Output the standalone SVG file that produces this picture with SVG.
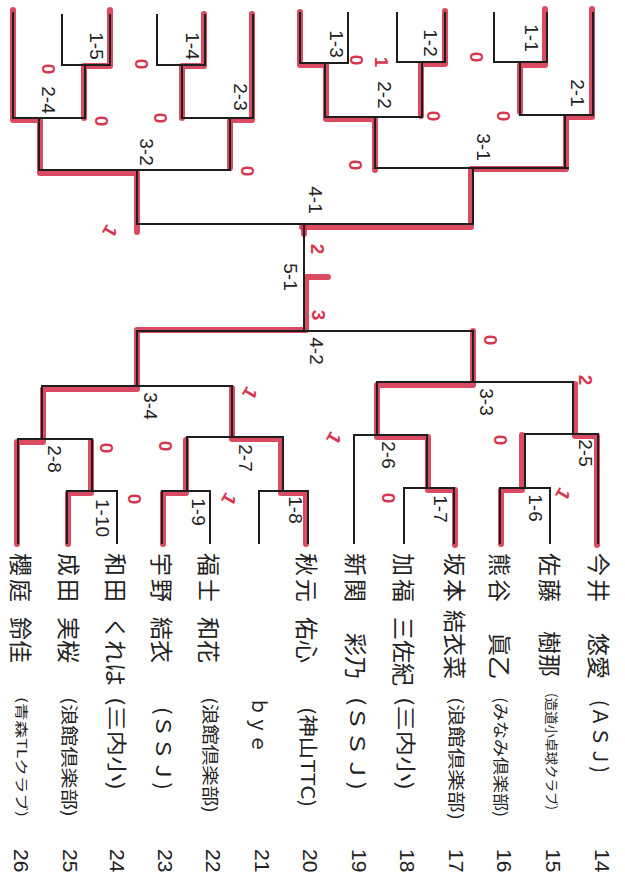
<svg xmlns="http://www.w3.org/2000/svg" width="625" height="874" viewBox="0 0 625 874">
<style>
.ln{fill:none;stroke:#1e1e1e;stroke-width:2;stroke-linecap:square;stroke-linejoin:miter}
.hl{fill:none;stroke:#d63650;stroke-width:6;stroke-linejoin:round;stroke-linecap:round;opacity:.9}
text{dominant-baseline:central}
.nm{font-family:"Noto Sans CJK JP","Liberation Sans",sans-serif;font-size:23px;fill:#222}
.sn{letter-spacing:3px}
.cl{font-family:"Noto Sans CJK JP","Liberation Sans",sans-serif;fill:#222}
.no{font-family:"Liberation Sans",sans-serif;font-size:21px;fill:#222}
.lb{font-family:"Liberation Sans",sans-serif;font-size:19px;fill:#222;text-anchor:middle}
.sc{font-family:"Liberation Sans",sans-serif;font-size:19px;font-weight:bold;fill:#d63650;text-anchor:middle}
</style>
<rect width="625" height="874" fill="#fff"/>

<g id="highlights">
<path class="hl" d="M13,10 V120 H40 V173 H137 V232"/>
<path class="hl" d="M110,10 V66 H84 V118"/>
<path class="hl" d="M204,14 V66 H182 V118"/>
<path class="hl" d="M252,14 V120 H230 V168"/>
<path class="hl" d="M300,12 V65 H326 V119 H375 V170"/>
<path class="hl" d="M445,11 V64 H421 V116"/>
<path class="hl" d="M545,9 V65 H520 V112"/>
<path class="hl" d="M592,9 V117 H566 V169 H471 V227 H302"/>
<path class="hl" d="M304,227 V234"/>
<path class="hl" d="M328,277 H306 V330 H137 V389 H43 V442 H17 V544"/>
<path class="hl" d="M68,544 V493 H91 V441"/>
<path class="hl" d="M306,544 V493 H281 V439 H232 V388"/>
<path class="hl" d="M163,544 V493 H186 V440"/>
<path class="hl" d="M455,545 V490 H428 V437 H377 V385 H473 V331"/>
<path class="hl" d="M597,545 V436 H575 V384"/>
<path class="hl" d="M501,544 V490 H522 V435"/>
</g>

<g id="connectors">
<path class="ln" d="M13,13 V118 H85"/>
<path class="ln" d="M62,15 V65 H110 V15"/>
<path class="ln" d="M85,65 V118"/>
<path class="ln" d="M39,118 V170"/>
<path class="ln" d="M157,15 V65 H205 V15"/>
<path class="ln" d="M182,65 V118 H253 V15"/>
<path class="ln" d="M230,118 V170"/>
<path class="ln" d="M39,170 H230"/>
<path class="ln" d="M137,170 V224"/>
<path class="ln" d="M300,13 V63 H348 V13"/>
<path class="ln" d="M325,63 V117"/>
<path class="ln" d="M397,13 V62 H445 V13"/>
<path class="ln" d="M422,62 V117"/>
<path class="ln" d="M325,117 H422"/>
<path class="ln" d="M375,117 V168"/>
<path class="ln" d="M494,13 V62 H547 V13"/>
<path class="ln" d="M520,62 V115 H593 V13"/>
<path class="ln" d="M565,115 V168"/>
<path class="ln" d="M375,168 H568"/>
<path class="ln" d="M473,168 V224"/>
<path class="ln" d="M137,224 H473"/>
<path class="ln" d="M304,224 V331"/>
<path class="ln" d="M137,331 H473"/>
<path class="ln" d="M137,331 V386"/>
<path class="ln" d="M42,386 H232"/>
<path class="ln" d="M42,386 V439"/>
<path class="ln" d="M18,543 V439 H92"/>
<path class="ln" d="M67,543 V491 H117 V543"/>
<path class="ln" d="M92,491 V439"/>
<path class="ln" d="M232,386 V437"/>
<path class="ln" d="M187,437 H283"/>
<path class="ln" d="M162,543 V491 H210 V543"/>
<path class="ln" d="M187,491 V437"/>
<path class="ln" d="M259,543 V491 H308 V543"/>
<path class="ln" d="M283,491 V437"/>
<path class="ln" d="M473,331 V382"/>
<path class="ln" d="M377,382 H573"/>
<path class="ln" d="M377,382 V435"/>
<path class="ln" d="M354,543 V435 H427"/>
<path class="ln" d="M404,543 V488 H454 V543"/>
<path class="ln" d="M427,488 V435"/>
<path class="ln" d="M573,382 V434"/>
<path class="ln" d="M525,434 H598 V543"/>
<path class="ln" d="M500,543 V488 H550 V543"/>
<path class="ln" d="M525,488 V434"/>
</g>

<g id="match-labels">
<g id="m1-1"><text class="lb" transform="translate(531,38) rotate(90)">1-1</text></g>
<g id="m2-1"><text class="lb" transform="translate(577,93) rotate(90)">2-1</text></g>
<g id="m1-2"><text class="lb" transform="translate(430,43) rotate(90)">1-2</text></g>
<g id="m1-3"><text class="lb" transform="translate(336,44) rotate(90)">1-3</text></g>
<g id="m2-2"><text class="lb" transform="translate(384,95) rotate(90)">2-2</text></g>
<g id="m3-1"><text class="lb" transform="translate(483,147) rotate(90)">3-1</text></g>
<g id="m4-1"><text class="lb" transform="translate(315,200) rotate(90)">4-1</text></g>
<g id="m1-5"><text class="lb" transform="translate(96,46) rotate(90)">1-5</text></g>
<g id="m2-4"><text class="lb" transform="translate(48,100) rotate(90)">2-4</text></g>
<g id="m1-4"><text class="lb" transform="translate(192,46) rotate(90)">1-4</text></g>
<g id="m2-3"><text class="lb" transform="translate(240,97) rotate(90)">2-3</text></g>
<g id="m3-2"><text class="lb" transform="translate(146,152) rotate(90)">3-2</text></g>
<g id="m5-1"><text class="lb" transform="translate(290,277) rotate(90)">5-1</text></g>
<g id="m4-2"><text class="lb" transform="translate(316,351) rotate(90)">4-2</text></g>
<g id="m3-4"><text class="lb" transform="translate(150,406) rotate(90)">3-4</text></g>
<g id="m2-8"><text class="lb" transform="translate(54,459) rotate(90)">2-8</text></g>
<g id="m1-10"><text class="lb" transform="translate(102,518) rotate(90)">1-10</text></g>
<g id="m2-7"><text class="lb" transform="translate(245,458) rotate(90)">2-7</text></g>
<g id="m1-9"><text class="lb" transform="translate(198,512) rotate(90)">1-9</text></g>
<g id="m1-8"><text class="lb" transform="translate(295,510) rotate(90)">1-8</text></g>
<g id="m3-3"><text class="lb" transform="translate(486,402) rotate(90)">3-3</text></g>
<g id="m2-6"><text class="lb" transform="translate(388,455) rotate(90)">2-6</text></g>
<g id="m1-7"><text class="lb" transform="translate(440,509) rotate(90)">1-7</text></g>
<g id="m2-5"><text class="lb" transform="translate(585,453) rotate(90)">2-5</text></g>
<g id="m1-6"><text class="lb" transform="translate(535,508) rotate(90)">1-6</text></g>
</g>

<g id="scores">
<text class="sc" transform="translate(48,69) rotate(90)">0</text>
<text class="sc" transform="translate(141,64) rotate(90)">0</text>
<text class="sc" transform="translate(101,121) rotate(90)">0</text>
<text class="sc" transform="translate(160,118) rotate(90)">0</text>
<text class="sc" transform="translate(247,171) rotate(90)">0</text>
<text class="sc" transform="translate(110,231) rotate(120)">1</text>
<text class="sc" transform="translate(356,60) rotate(90)">0</text>
<text class="sc" transform="translate(381,62) rotate(90)">1</text>
<text class="sc" transform="translate(476,57) rotate(90)">0</text>
<text class="sc" transform="translate(433,116) rotate(90)">0</text>
<text class="sc" transform="translate(503,116) rotate(90)">0</text>
<text class="sc" transform="translate(355,165) rotate(90)">0</text>
<text class="sc" transform="translate(317,249) rotate(90)">2</text>
<text class="sc" transform="translate(318,315) rotate(90)">3</text>
<text class="sc" transform="translate(490,340) rotate(90)">0</text>
<text class="sc" transform="translate(585,380) rotate(90)">2</text>
<text class="sc" transform="translate(500,440) rotate(90)">0</text>
<text class="sc" transform="translate(563,494) rotate(120)">1</text>
<text class="sc" transform="translate(334,438) rotate(120)">1</text>
<text class="sc" transform="translate(388,498) rotate(90)">0</text>
<text class="sc" transform="translate(106,448) rotate(90)">0</text>
<text class="sc" transform="translate(134,499) rotate(90)">0</text>
<text class="sc" transform="translate(250,393) rotate(120)">1</text>
<text class="sc" transform="translate(165,446) rotate(90)">0</text>
<text class="sc" transform="translate(229,499) rotate(120)">1</text>
</g>

<g id="p14"><text class="nm sn" transform="translate(600,553) rotate(90)">今井</text><text class="nm" transform="translate(600,633) rotate(90)">悠愛</text><text class="cl" font-size="20" textLength="73" lengthAdjust="spacingAndGlyphs" transform="translate(601,700) rotate(90)">(ＡＳＪ)</text><text class="no" transform="translate(602,849) rotate(90)">14</text></g>
<g id="p15"><text class="nm sn" transform="translate(551,553) rotate(90)">佐藤</text><text class="nm" transform="translate(551,631) rotate(90)">樹那</text><text class="cl" font-size="13" textLength="117" lengthAdjust="spacingAndGlyphs" transform="translate(552,693) rotate(90)">(造道小卓球クラブ)</text><text class="no" transform="translate(553,849) rotate(90)">15</text></g>
<g id="p16"><text class="nm sn" transform="translate(501,553) rotate(90)">熊谷</text><text class="nm" transform="translate(501,633) rotate(90)">眞乙</text><text class="cl" font-size="16" textLength="120" lengthAdjust="spacingAndGlyphs" transform="translate(502,697) rotate(90)">(みなみ倶楽部)</text><text class="no" transform="translate(504,849) rotate(90)">16</text></g>
<g id="p17"><text class="nm sn" transform="translate(456,553) rotate(90)">坂本</text><text class="nm" transform="translate(456,610) rotate(90)">結衣菜</text><text class="cl" font-size="17" textLength="123" lengthAdjust="spacingAndGlyphs" transform="translate(457,697) rotate(90)">(浪館倶楽部)</text><text class="no" transform="translate(456,849) rotate(90)">17</text></g>
<g id="p18"><text class="nm sn" transform="translate(405,553) rotate(90)">加福</text><text class="nm" transform="translate(405,617) rotate(90)">三佐紀</text><text class="cl" font-size="20" textLength="93" lengthAdjust="spacingAndGlyphs" transform="translate(406,697) rotate(90)">(三内小)</text><text class="no" transform="translate(407,849) rotate(90)">18</text></g>
<g id="p19"><text class="nm sn" transform="translate(357,553) rotate(90)">新関</text><text class="nm" transform="translate(357,633) rotate(90)">彩乃</text><text class="cl" font-size="20" textLength="93" lengthAdjust="spacingAndGlyphs" transform="translate(358,697) rotate(90)">(ＳＳＪ)</text><text class="no" transform="translate(359,849) rotate(90)">19</text></g>
<g id="p20"><text class="nm sn" transform="translate(308,553) rotate(90)">秋元</text><text class="nm" transform="translate(308,617) rotate(90)">佑心</text><text class="cl" font-size="19" textLength="100" lengthAdjust="spacingAndGlyphs" transform="translate(309,707) rotate(90)">(神山TTC)</text><text class="no" transform="translate(310,849) rotate(90)">20</text></g>
<g id="p21"><text class="cl" font-size="20" textLength="56" lengthAdjust="spacingAndGlyphs" transform="translate(260,697) rotate(90)">ｂｙｅ</text><text class="no" transform="translate(262,849) rotate(90)">21</text></g>
<g id="p22"><text class="nm sn" transform="translate(210,553) rotate(90)">福士</text><text class="nm" transform="translate(210,617) rotate(90)">和花</text><text class="cl" font-size="17" textLength="116" lengthAdjust="spacingAndGlyphs" transform="translate(211,697) rotate(90)">(浪館倶楽部)</text><text class="no" transform="translate(213,849) rotate(90)">22</text></g>
<g id="p23"><text class="nm sn" transform="translate(163,553) rotate(90)">宇野</text><text class="nm" transform="translate(163,617) rotate(90)">結衣</text><text class="cl" font-size="20" textLength="83" lengthAdjust="spacingAndGlyphs" transform="translate(164,707) rotate(90)">(ＳＳＪ)</text><text class="no" transform="translate(165,849) rotate(90)">23</text></g>
<g id="p24"><text class="nm sn" transform="translate(117,553) rotate(90)">和田</text><text class="nm" transform="translate(117,617) rotate(90)">くれは</text><text class="cl" font-size="20" textLength="93" lengthAdjust="spacingAndGlyphs" transform="translate(117,697) rotate(90)">(三内小)</text><text class="no" transform="translate(117,849) rotate(90)">24</text></g>
<g id="p25"><text class="nm sn" transform="translate(70,553) rotate(90)">成田</text><text class="nm" transform="translate(70,617) rotate(90)">実桜</text><text class="cl" font-size="17" textLength="120" lengthAdjust="spacingAndGlyphs" transform="translate(70,697) rotate(90)">(浪館倶楽部)</text><text class="no" transform="translate(70,849) rotate(90)">25</text></g>
<g id="p26"><text class="nm sn" transform="translate(22,553) rotate(90)">櫻庭</text><text class="nm" transform="translate(22,617) rotate(90)">鈴佳</text><text class="cl" font-size="13" textLength="120" lengthAdjust="spacingAndGlyphs" transform="translate(22,697) rotate(90)">(青森TLクラブ)</text><text class="no" transform="translate(21,849) rotate(90)">26</text></g>
</svg>
